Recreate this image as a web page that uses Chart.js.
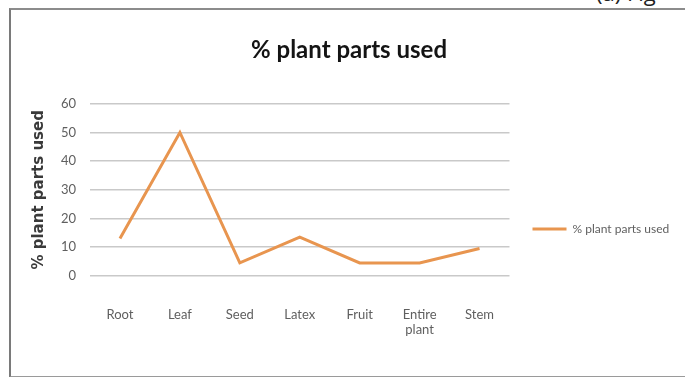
<!DOCTYPE html>
<html>
<head>
<meta charset="utf-8">
<script src="https://cdn.jsdelivr.net/npm/chart.js@4"></script>
<style>
  html, body { margin: 0; padding: 0; background: #fff; }
  body { width: 685px; height: 377px; position: relative; overflow: hidden; }
  .frame {
    position: absolute; left: 9px; top: 8px; width: 700px; height: 366px;
    border-left: 2px solid #7a7a7a; border-top: 2px solid #8c8c8c; border-bottom: 2px solid #9a9a9a;
  }
  .fig {
    position: absolute; left: 596px; top: -19px; font: 22px "Open Sans", sans-serif;
    line-height: 1; color: #222; white-space: nowrap;
  }
  .wrap { position: absolute; left: 0; top: 0; width: 685px; height: 377px; }
</style>
</head>
<body>
<div class="fig">(a) Fig</div>
<div class="frame"></div>
<div class="wrap"><canvas id="lineChart" width="685" height="377"></canvas></div>
<script>
const parts = ['Root', 'Leaf', 'Seed', 'Latex', 'Fruit', ['Entire', 'plant'], 'Stem'];
const percentUsed = [13, 50, 4.5, 13.5, 4.5, 4.5, 9.5];
const yTicks = { min: 0, max: 60, step: 10 };
const seriesName = '% plant parts used';

const orange = '#e8954f';
const labelGray = '#5f5f5f';

const ctx = document.getElementById('lineChart');

new Chart(ctx, {
  type: 'line',
  data: {
    labels: parts,
    datasets: [{
      label: seriesName,
      data: percentUsed,
      borderColor: orange,
      backgroundColor: orange,
      borderWidth: 3,
      pointRadius: 0,
      tension: 0
    }]
  },
  options: {
    responsive: false,
    animation: false,
    layout: { padding: { left: 28, right: 15, top: 36, bottom: 8 } },
    plugins: {
      title: {
        display: true,
        text: seriesName,
        color: '#141414',
        font: { family: 'Lato', size: 24, weight: 'bold' },
        padding: { top: 0, bottom: 39 }
      },
      legend: {
        position: 'right',
        // blank legend title only nudges the single entry down, like the original
        title: { display: true, text: ' ', padding: 0, font: { size: 44 } },
        labels: {
          usePointStyle: true,
          pointStyle: 'line',
          pointStyleWidth: 34,
          boxHeight: 12,
          padding: 23,
          color: labelGray,
          font: { family: 'Lato', size: 12 }
        }
      },
      tooltip: { enabled: false }
    },
    scales: {
      x: {
        offset: true,
        grid: { display: false, drawTicks: false },
        border: { display: false },
        ticks: {
          color: labelGray,
          padding: 31,
          maxRotation: 0,
          font: { family: 'Lato', size: 13 }
        }
      },
      y: {
        min: yTicks.min,
        max: yTicks.max,
        afterFit: (scale) => { scale.width = 62; },
        grid: { color: '#c9c9c9', lineWidth: 1.5, drawTicks: false },
        border: { display: false },
        ticks: {
          stepSize: yTicks.step,
          color: labelGray,
          padding: 14,
          font: { family: 'Lato', size: 13 }
        },
        title: {
          display: true,
          text: seriesName,
          color: '#3a3a3a',
          padding: { top: 2, bottom: 0 },
          font: { family: 'DejaVu Sans', size: 15, weight: 'bold' }
        }
      }
    }
  }
});
</script>
</body>
</html>
